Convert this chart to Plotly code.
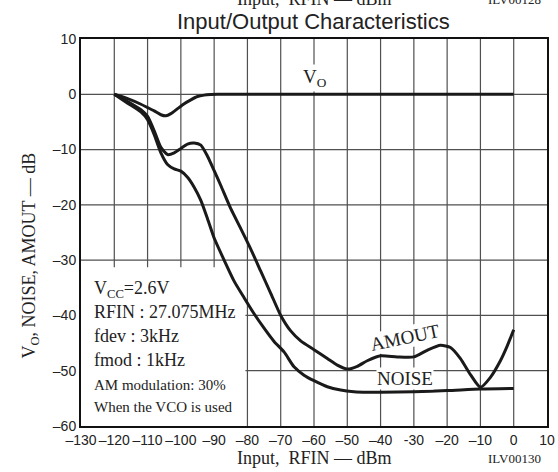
import plotly.graph_objects as go

# ---- data ----
vo_x = [-120, -116, -112, -110, -108, -106, -104.5, -103, -101, -99, -97, -95, -93, -91, -89, -80, -60, -40, -20, 0]
vo_y = [0, -0.8, -1.8, -2.4, -3.0, -3.7, -3.9, -3.5, -2.6, -1.7, -1.0, -0.4, -0.15, -0.05, 0, 0, 0, 0, 0, 0]

amout_x = [-120, -116, -112, -110, -108, -106, -104, -102, -100, -98, -96, -94, -92, -90, -88, -85, -82,
           -79, -76, -73, -70, -67, -64, -60, -56, -53, -50, -47, -44, -40, -35, -30, -26, -22, -19,
           -16, -13, -10, -7, -4, -2, 0]
amout_y = [0, -1.3, -2.8, -4.0, -6.6, -9.6, -10.9, -10.6, -9.8, -9.0, -8.8, -9.2, -11.2, -13.8, -16.5,
           -20.7, -24.3, -28.0, -32.0, -36.0, -40.0, -42.8, -44.6, -46.2, -47.8, -49.0, -49.7, -49.2,
           -48.2, -47.3, -47.5, -47.5, -46.3, -45.4, -45.8, -47.8, -50.7, -53.0, -51.2, -48.2, -45.6, -42.6]

noise_x = [-120, -116, -112, -110, -108, -106, -104, -102, -100, -98, -96, -94, -92, -90, -87, -84, -81,
           -78, -75, -72, -69, -66, -63, -60, -56, -52, -48, -44, -40, -30, -20, -10, 0]
noise_y = [0, -1.6, -3.2, -4.6, -7.3, -10.6, -12.7, -13.5, -13.9, -15.0, -16.8, -19.2, -22.5, -26.0,
           -30.0, -33.8, -36.8, -39.7, -42.3, -44.7, -46.6, -49.3, -50.8, -51.8, -52.9, -53.5, -53.8,
           -53.9, -53.9, -53.8, -53.6, -53.3, -53.2]

x_tickvals = [-130, -120, -110, -100, -90, -80, -70, -60, -50, -40, -30, -20, -10, 0, 10]
x_ticktext = ["\u2013130", "\u2013120", "\u2013110", "\u2013100", "\u201390", "\u201380", "\u201370",
              "\u201360", "\u201350", "\u201340", "-30", "\u201320", "\u201310", "0", "10"]
y_tickvals = [10, 0, -10, -20, -30, -40, -50, -60]
y_ticktext = ["10", "0", "\u201310", "\u201320", "\u201330", "\u201340", "\u201350", "\u201360"]

info_lines = ["V<sub>CC</sub>=2.6V", "RFIN : 27.075MHz", "fdev : 3kHz", "fmod : 1kHz",
              "AM modulation: 30%", "When the VCO is used"]
info_y = [-35.3, -39.4, -43.8, -48.1, -52.6, -56.6]
info_size = [18, 18, 18, 18, 15, 15]

# extent of the white conditions box (data units)
box_x = [-130, -80.6, -80.6, -130, -130]
box_y = [-60, -60, -31.3, -31.3, -60]

X_RANGE = [-130, 10]
Y_RANGE = [-60, 10]

SERIF = "Liberation Serif, Times New Roman, serif"
SANS = "Liberation Sans, Arial, sans-serif"
LINE = "#1a1a1a"
GRID = "#505050"

fig = go.Figure()

# grid lines at every tick value (drawn as one trace so the white box can sit above them)
gx, gy = [], []
for v in x_tickvals[1:-1]:
    gx += [v, v, None]
    gy += [Y_RANGE[0], Y_RANGE[1], None]
for v in y_tickvals[1:-1]:
    gx += [X_RANGE[0], X_RANGE[1], None]
    gy += [v, v, None]
fig.add_trace(go.Scatter(x=gx, y=gy, mode="lines", line=dict(color=GRID, width=1.2),
                         showlegend=False, hoverinfo="skip"))

# white box behind the conditions text (above grid, below curves)
fig.add_trace(go.Scatter(x=box_x, y=box_y, mode="lines", fill="toself", fillcolor="white",
                         line=dict(width=0, color="white"), showlegend=False, hoverinfo="skip"))
for xs, ys in [(vo_x, vo_y), (amout_x, amout_y), (noise_x, noise_y)]:
    fig.add_trace(go.Scatter(x=xs, y=ys, mode="lines",
                             line=dict(color=LINE, width=3, shape="spline", smoothing=0.6),
                             showlegend=False, hoverinfo="skip"))

for t, yv, s in zip(info_lines, info_y, info_size):
    fig.add_annotation(x=-126.8, y=yv, xref="x", yref="y", text=t, showarrow=False,
                       xanchor="left", yanchor="middle", font=dict(family=SERIF, size=s, color="#222"))

fig.add_annotation(x=-59.7, y=3.0, xref="x", yref="y", text="V<sub>O</sub>", showarrow=False,
                   bgcolor="white", font=dict(family=SERIF, size=19, color="#222"))
fig.add_annotation(x=-32.7, y=-44.0, xref="x", yref="y", text="AMOUT", showarrow=False,
                   textangle=-12, bgcolor="white", borderpad=0,
                   font=dict(family=SERIF, size=19, color="#222"))
fig.add_annotation(x=-32.7, y=-51.4, xref="x", yref="y", text="NOISE", showarrow=False,
                   bgcolor="white", borderpad=0, font=dict(family=SERIF, size=19, color="#222"))

def paper_text(x, y, text, font, angle=0):
    fig.add_annotation(x=x, y=y, xref="paper", yref="paper", text=text, showarrow=False,
                       xanchor="center", yanchor="middle", textangle=angle, font=font)

paper_text(0.498, 1.045, "Input/Output Characteristics", dict(family=SANS, size=22, color="#222"))
paper_text(0.5, -0.083, "Input,  RFIN \u2014 dBm", dict(family=SERIF, size=18, color="#222"))
paper_text(0.931, -0.083, "ILV00130", dict(family=SERIF, size=13, color="#222"))
paper_text(-0.109, 0.441, "V<sub>O</sub>, NOISE, AMOUT \u2014 dB", dict(family=SERIF, size=18, color="#222"), -90)
# clipped caption from the previous figure at the top edge
paper_text(0.5, 1.103, "Input,  RFIN \u2014 dBm", dict(family=SERIF, size=18, color="#222"))
paper_text(0.931, 1.103, "ILV00128", dict(family=SERIF, size=13, color="#222"))

fig.update_xaxes(range=X_RANGE, tickvals=x_tickvals, ticktext=x_ticktext, tickangle=0,
                 automargin=False, showgrid=False, zeroline=False,
                 showline=True, linecolor="#111", linewidth=2, mirror=True,
                 tickfont=dict(family=SANS, size=14, color="#222"))
fig.update_yaxes(range=Y_RANGE, tickvals=y_tickvals, ticktext=y_ticktext,
                 automargin=False, showgrid=False, zeroline=False,
                 showline=True, linecolor="#111", linewidth=2, mirror=True,
                 tickfont=dict(family=SANS, size=14, color="#222"))

fig.update_layout(width=558, height=472, margin=dict(l=81, r=11, t=39, b=46),
                  paper_bgcolor="white", plot_bgcolor="white", showlegend=False)

fig.write_html("out.html", config={"displayModeBar": False},
               post_script="document.body.style.margin='0';")
